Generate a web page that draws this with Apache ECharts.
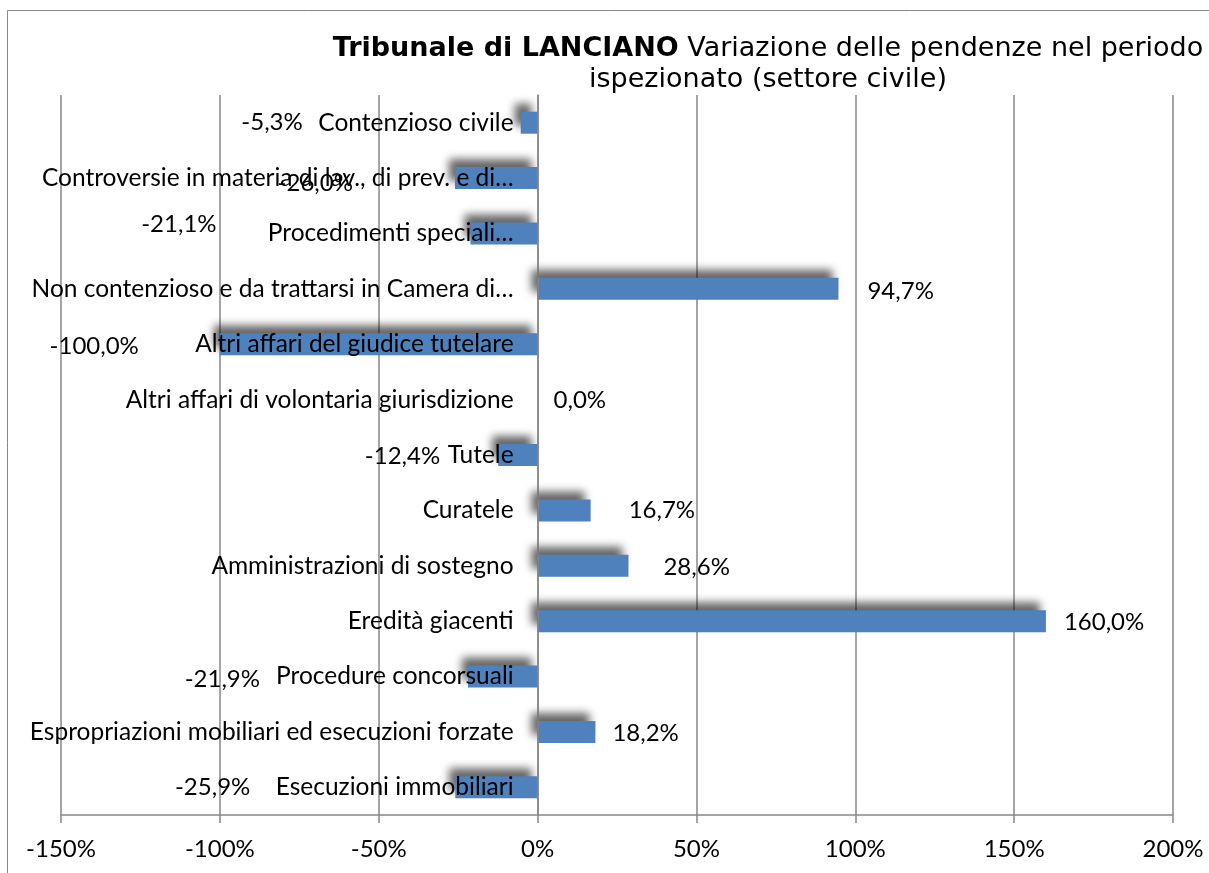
<!DOCTYPE html>
<html>
<head>
<meta charset="utf-8">
<script src="https://cdn.jsdelivr.net/npm/echarts@6/dist/echarts.min.js"></script>
<style>
  html, body { margin: 0; padding: 0; background: #fff; }
  #main { width: 1209px; height: 873px; }
</style>
</head>
<body>
<div id="main"></div>
<script>
// categorie (dall'alto verso il basso)
var categorie = [
  'Contenzioso civile',
  'Controversie in materia di lav., di prev. e di…',
  'Procedimenti speciali…',
  'Non contenzioso e da trattarsi in Camera di…',
  'Altri affari del giudice tutelare',
  'Altri affari di volontaria giurisdizione',
  'Tutele',
  'Curatele',
  'Amministrazioni di sostegno',
  'Eredità giacenti',
  'Procedure concorsuali',
  'Espropriazioni mobiliari ed esecuzioni forzate',
  'Esecuzioni immobiliari'
];
// variazione percentuale delle pendenze
var variazioni = [-5.3, -26.0, -21.1, 94.7, -100.0, 0.0, -12.4, 16.7, 28.6, 160.0, -21.9, 18.2, -25.9];
var tickMin = -150, tickMax = 200, tickStep = 50;

// spostamento delle etichette come nel grafico originale
var labelNudge = [[-213, 0], [-97, 5], [-249, -9], [24, 2], [-76, 2], [11, 1], [-53, 1],
                  [33, 0], [30, 1], [13, 1], [-203, 3], [12, 1], [-200, 0]];

var gridLeft = 61, gridRight = 36;
var chart = echarts.init(document.getElementById('main'));

// posizione dello zero sull'asse dei valori
var plotW = 1209 - gridLeft - gridRight;
var zeroShift = (0 - tickMin) / (tickMax - tickMin) * plotW;

var dati = variazioni.map(function (v, i) {
  return {
    value: v,
    label: {
      position: v < 0 ? 'left' : 'right',
      offset: labelNudge[i]
    }
  };
});

var font = 'Lato';

var option = {
  backgroundColor: '#fff',
  animation: false,
  graphic: [{
    type: 'rect',
    shape: { x: 7.5, y: 10.5, width: 1300, height: 1000 },
    style: { fill: 'none', stroke: '#878787', lineWidth: 1 },
    silent: true
  }],
  title: {
    text: '{b|Tribunale di LANCIANO} Variazione delle pendenze nel periodo\nispezionato (settore civile)',
    left: 763,
    top: 28,
    textAlign: 'center',
    textStyle: {
      fontFamily: 'DejaVu Sans',
      fontSize: 27,
      fontWeight: 'normal',
      color: '#000',
      lineHeight: 31,
      rich: {
        b: { fontFamily: 'DejaVu Sans', fontSize: 27, fontWeight: 'bold', color: '#000', lineHeight: 31 }
      }
    }
  },
  grid: { left: gridLeft, right: gridRight, top: 95, bottom: 58, outerBoundsMode: 'none' },
  xAxis: {
    type: 'value',
    min: tickMin,
    max: tickMax,
    interval: tickStep,
    axisLine: { show: true, lineStyle: { color: '#878787', width: 1.5 } },
    axisTick: { show: true, length: 8, lineStyle: { color: '#878787', width: 1.5 } },
    splitLine: { show: true, lineStyle: { color: '#878787', width: 1.5 } },
    axisLabel: {
      formatter: '{value}%',
      fontFamily: font,
      fontSize: 24,
      color: '#000',
      margin: 22
    }
  },
  yAxis: {
    type: 'category',
    data: categorie,
    inverse: true,
    position: 'left',
    offset: -zeroShift,
    axisLine: { show: true, onZero: false, lineStyle: { color: '#878787', width: 1.5 } },
    axisTick: { show: false },
    splitLine: { show: false },
    axisLabel: {
      fontFamily: font,
      fontSize: 24.5,
      color: '#000',
      margin: 24
    },
    z: 3
  },
  series: [{
    type: 'bar',
    data: dati,
    barWidth: 22,
    itemStyle: {
      color: '#4f81bd',
      shadowColor: 'rgba(0,0,0,0.6)',
      shadowBlur: 9,
      shadowOffsetX: -6,
      shadowOffsetY: -8
    },
    label: {
      show: true,
      distance: 5,
      fontFamily: font,
      fontSize: 24,
      color: '#000',
      formatter: function (p) {
        return p.value.toFixed(1).replace('.', ',') + '%';
      }
    },
    z: 2
  }]
};

chart.setOption(option);
</script>
</body>
</html>
